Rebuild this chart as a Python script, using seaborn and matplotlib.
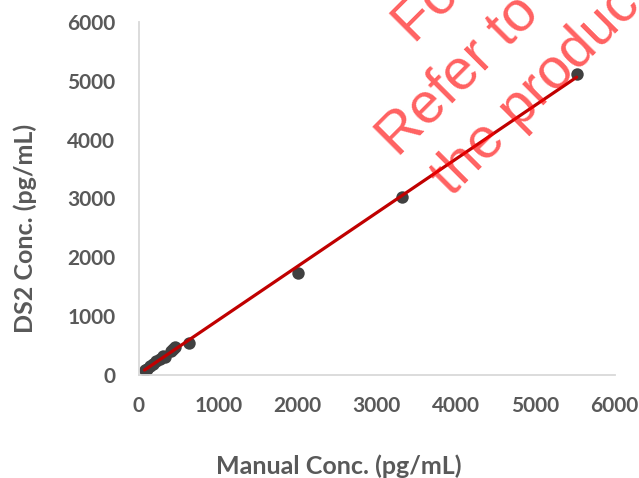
import numpy as np
import pandas as pd
import matplotlib
matplotlib.use("Agg")
import matplotlib.pyplot as plt
import seaborn as sns

# values
manual_conc = [70, 100, 140, 180, 210, 260, 300, 330, 400, 430, 450, 630, 2000, 3320, 5520]
ds2_conc = [80, 110, 150, 190, 230, 270, 330, 300, 400, 450, 480, 540, 1730, 3020, 5120]
ticks = [0, 1000, 2000, 3000, 4000, 5000, 6000]

df = pd.DataFrame({"Manual": manual_conc, "DS2": ds2_conc})

sns.set_style("white")
plt.rcParams["font.family"] = ["Lato", "DejaVu Sans"]

grey = "#595959"
fig = plt.figure(figsize=(6.39, 4.78), dpi=100)
ax = fig.add_axes([0.2175, 0.2155, 0.7445, 0.7385])

sns.regplot(data=df, x="Manual", y="DS2", ax=ax, ci=None,
            scatter_kws={"s": 80, "color": "#404040", "alpha": 1, "linewidths": 0},
            line_kws={"color": "#C00000", "linewidth": 2.3})

ax.set_xlim(0, 6000)
ax.set_ylim(0, 6000)
ax.set_xticks(ticks)
ax.set_yticks(ticks)
ax.set_xticklabels([str(t) for t in ticks], fontsize=15, fontweight="bold", color=grey)
ax.set_yticklabels([str(t) for t in ticks], fontsize=15, fontweight="bold", color=grey)
ax.tick_params(length=0)
ax.tick_params(axis="y", pad=17)
ax.tick_params(axis="x", pad=15)

ax.set_xlabel("Manual Conc. (pg/mL)", fontsize=18, fontweight="bold", color=grey)
ax.set_ylabel("DS2 Conc. (pg/mL)", fontsize=18, fontweight="bold", color=grey)
ax.xaxis.set_label_coords(0.419, -0.225)
ax.yaxis.set_label_coords(-0.214, 0.416)

for side in ["top", "right"]:
    ax.spines[side].set_visible(False)
for side in ["left", "bottom"]:
    ax.spines[side].set_color("#D9D9D9")
    ax.spines[side].set_linewidth(1.3)

# watermark
wm = dict(fontsize=41, color="red", alpha=0.62, rotation=45,
          rotation_mode="anchor", ha="left", va="baseline",
          family=["Liberation Sans", "DejaVu Sans"])
fig.text(415 / 639, 1 - 45 / 478, "For Research Use Only", **wm)
fig.text(398 / 639, 1 - 158 / 478, "Refer to the", **wm)
fig.text(452 / 639, 1 - 198 / 478, "the product manual", **wm)

fig.savefig("out.png", dpi=100)
